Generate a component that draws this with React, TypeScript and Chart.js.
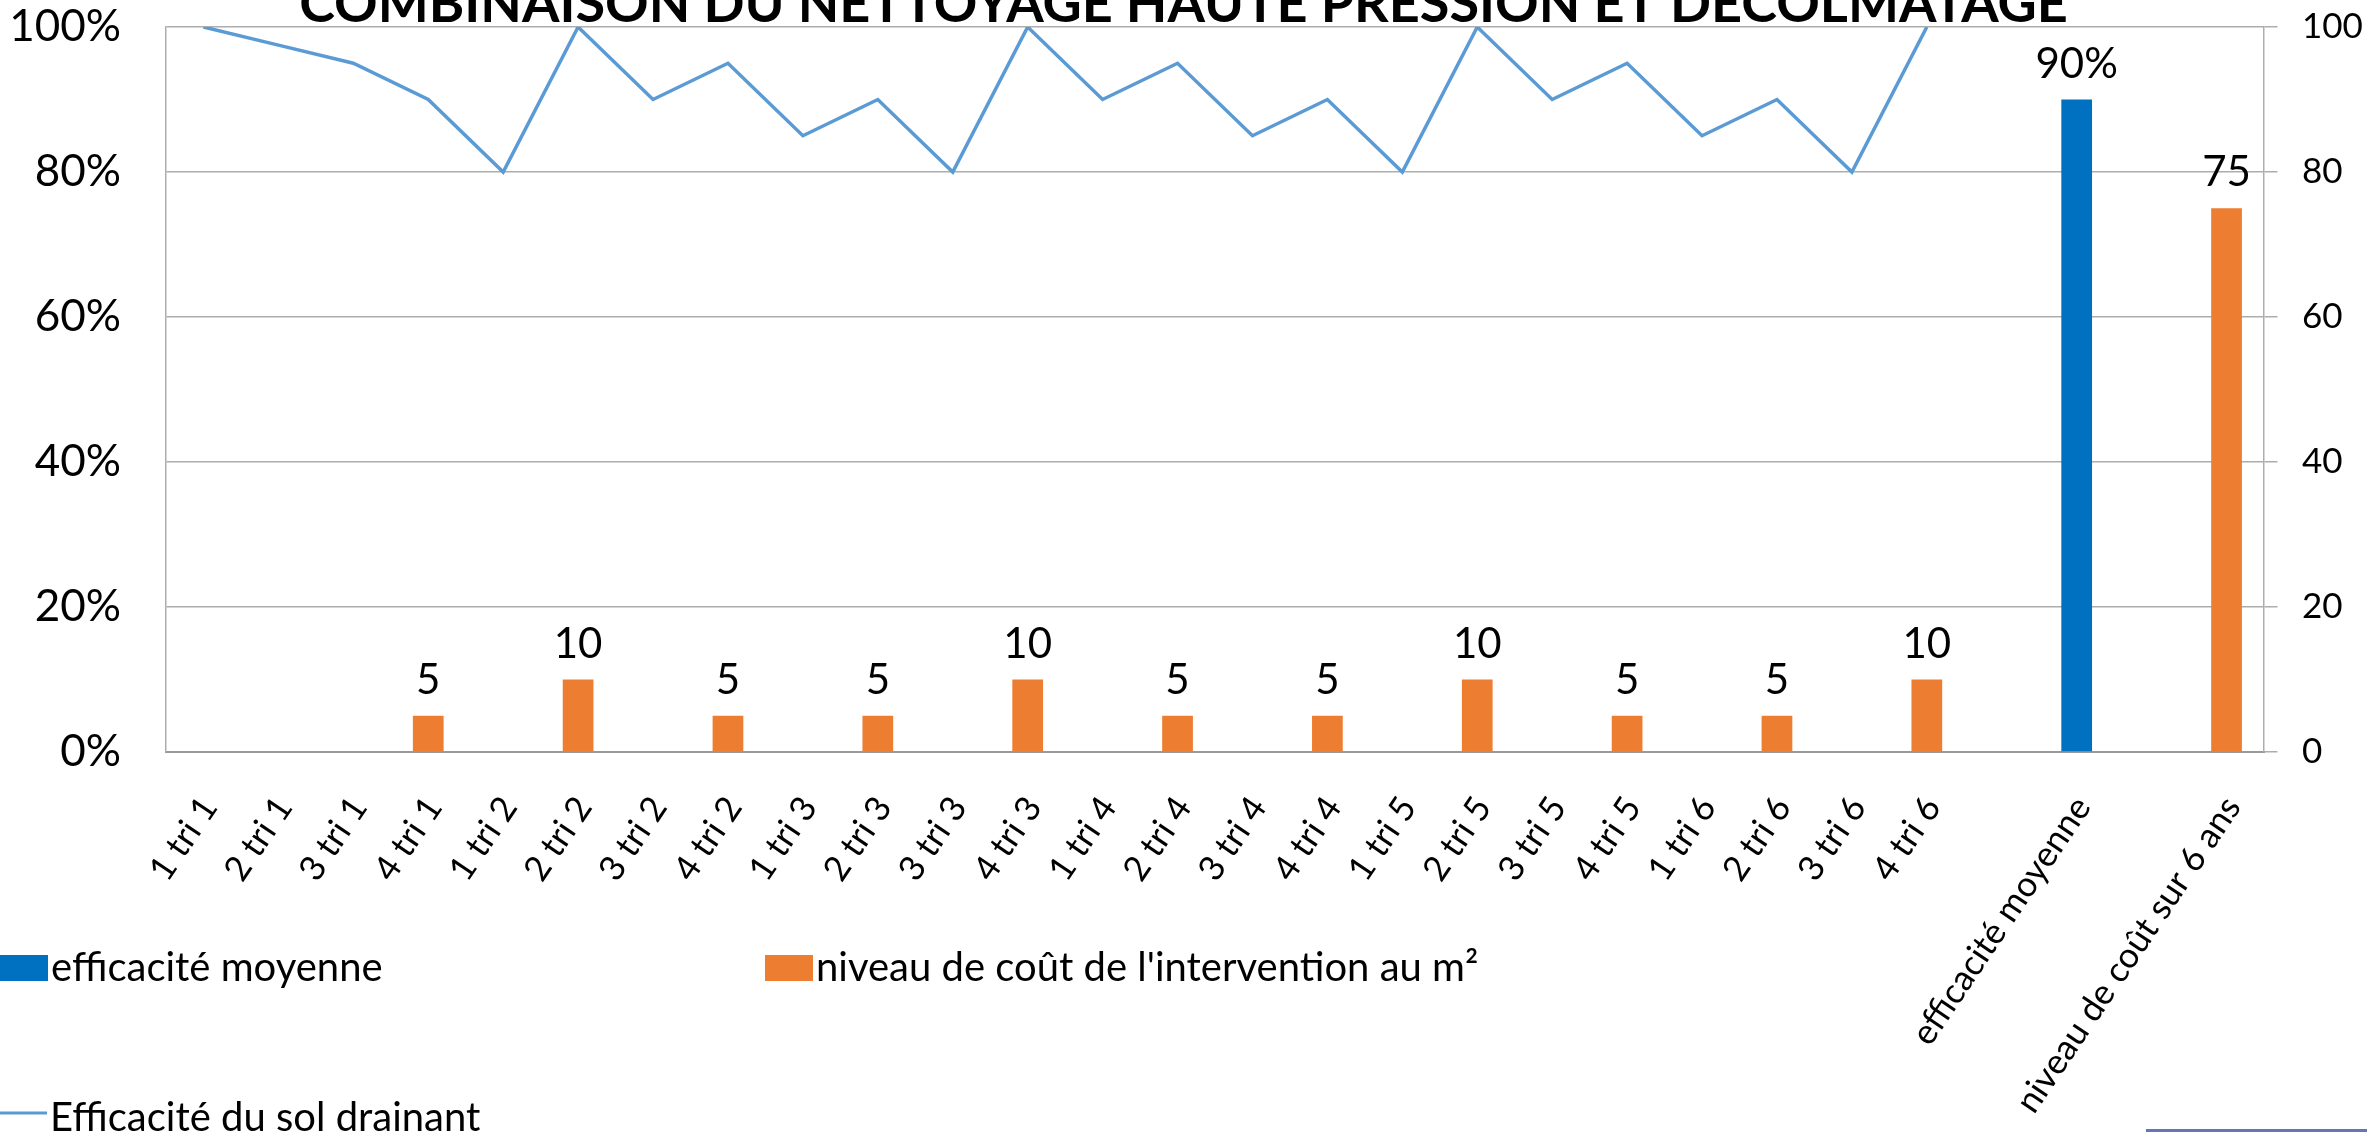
import React, { useEffect, useRef } from 'react';
import { Chart, registerables } from 'chart.js';

Chart.register(...registerables);

const TITLE = 'COMBINAISON DU NETTOYAGE HAUTE PRESSION ET DECOLMATAGE';

const categories = [
  '1 tri 1', '2 tri 1', '3 tri 1', '4 tri 1',
  '1 tri 2', '2 tri 2', '3 tri 2', '4 tri 2',
  '1 tri 3', '2 tri 3', '3 tri 3', '4 tri 3',
  '1 tri 4', '2 tri 4', '3 tri 4', '4 tri 4',
  '1 tri 5', '2 tri 5', '3 tri 5', '4 tri 5',
  '1 tri 6', '2 tri 6', '3 tri 6', '4 tri 6',
  '', 'efficacité moyenne', '', 'niveau de coût sur 6 ans',
];

const efficaciteMoyenne = [
  null, null, null, null, null, null, null, null, null, null, null, null,
  null, null, null, null, null, null, null, null, null, null, null, null,
  null, 90, null, null,
];

const coutIntervention = [
  null, null, null, 5, null, 10, null, 5, null, 5, null, 10,
  null, 5, null, 5, null, 10, null, 5, null, 5, null, 10,
  null, null, null, 75,
];

const efficaciteSol = [
  100, 97.5, 95, 90, 80, 100, 90, 95, 85, 90, 80, 100,
  90, 95, 85, 90, 80, 100, 90, 95, 85, 90, 80, 100,
  null, null, null, null,
];

const seriesLabels = [
  'efficacité moyenne',
  "niveau de coût de l'intervention au m²",
  'Efficacité du sol drainant',
];

const FONT = 'Lato, "Open Sans", "DejaVu Sans", sans-serif';
const GRID = '#ADADAD';

const titlePlugin = {
  id: 'cutTitle',
  afterDraw(chart: any) {
    const ctx = chart.ctx;
    ctx.save();
    ctx.font = `bold 54px ${FONT}`;
    ctx.fillStyle = '#000';
    ctx.textAlign = 'center';
    ctx.textBaseline = 'alphabetic';
    ctx.fillText(TITLE, chart.width / 2, 22);
    ctx.restore();
  },
};

const valueLabels = {
  id: 'valueLabels',
  afterDatasetsDraw(chart: any) {
    const ctx = chart.ctx;
    ctx.save();
    ctx.font = `42px ${FONT}`;
    ctx.fillStyle = '#000';
    ctx.textAlign = 'center';
    ctx.textBaseline = 'alphabetic';
    chart.data.datasets.forEach((ds: any, i: number) => {
      if (ds.type !== 'bar') return;
      const meta = chart.getDatasetMeta(i);
      meta.data.forEach((el: any, j: number) => {
        const v = ds.data[j];
        if (v === null || v === undefined) return;
        const txt = ds.yAxisID === 'y' ? `${v}%` : String(v);
        ctx.fillText(txt, el.x, el.y - 22);
      });
    });
    ctx.restore();
  },
};

const legendPlugin = {
  id: 'gridLegend',
  afterDraw(chart: any) {
    const ctx = chart.ctx;
    const ds = chart.data.datasets;
    ctx.save();
    ctx.font = `40px ${FONT}`;
    ctx.fillStyle = '#000';
    ctx.textBaseline = 'middle';
    ctx.textAlign = 'left';
    const items = [
      { d: ds[0], x: 0, y: 968 },
      { d: ds[1], x: 765, y: 968 },
    ];
    items.forEach((it) => {
      ctx.fillStyle = it.d.backgroundColor;
      ctx.fillRect(it.x, it.y - 13, 48, 26);
      ctx.fillStyle = '#000';
      ctx.fillText(it.d.label, it.x + 51, it.y);
    });
    const l = ds[2];
    ctx.strokeStyle = l.borderColor;
    ctx.lineWidth = 3;
    ctx.beginPath();
    ctx.moveTo(0, 1113);
    ctx.lineTo(47, 1113);
    ctx.stroke();
    ctx.fillStyle = '#000';
    ctx.fillText(l.label, 50, 1118);
    ctx.restore();
  },
};

export default function App() {
  const ref = useRef<HTMLCanvasElement | null>(null);

  useEffect(() => {
    if (!ref.current) return;
    const chart = new Chart(ref.current, {
      type: 'bar',
      data: {
        labels: categories,
        datasets: [
          {
            type: 'bar',
            label: seriesLabels[0],
            data: efficaciteMoyenne,
            backgroundColor: '#0070C0',
            yAxisID: 'y',
            grouped: false,
            barPercentage: 0.41,
            categoryPercentage: 1,
          } as any,
          {
            type: 'bar',
            label: seriesLabels[1],
            data: coutIntervention,
            backgroundColor: '#ED7D31',
            yAxisID: 'y1',
            grouped: false,
            barPercentage: 0.41,
            categoryPercentage: 1,
          } as any,
          {
            type: 'line',
            label: seriesLabels[2],
            data: efficaciteSol,
            borderColor: '#5B9BD5',
            backgroundColor: '#5B9BD5',
            borderWidth: 3.5,
            pointRadius: 0,
            tension: 0,
            yAxisID: 'y',
          } as any,
        ],
      },
      options: {
        responsive: false,
        devicePixelRatio: 1,
        animation: false,
        layout: { padding: { top: 27, left: 0, right: 0, bottom: 0 } },
        plugins: {
          legend: { display: false },
          tooltip: { enabled: false },
          title: { display: false },
        },
        scales: {
          x: {
            ticks: {
              autoSkip: false,
              minRotation: 56,
              maxRotation: 56,
              font: { family: FONT, size: 35 },
              color: '#000',
              padding: 37,
              labelOffset: 6,
            },
            grid: { display: false, drawTicks: false },
            border: { display: true, color: '#999999', width: 2 },
            afterFit: (s: any) => { s.height = 380; },
          },
          y: {
            position: 'left',
            min: 0,
            max: 100,
            ticks: {
              stepSize: 20,
              callback: (v: any) => `${v}%`,
              font: { family: FONT, size: 44 },
              color: '#000',
              padding: 0,
            },
            grid: { color: GRID, lineWidth: 1.5, drawTicks: true, tickLength: 45, tickColor: 'rgba(0,0,0,0)' },
            border: { display: true, color: GRID, width: 1.5 },
            afterFit: (s: any) => { s.width = 166; },
          },
          y1: {
            position: 'right',
            min: 0,
            max: 100,
            ticks: {
              stepSize: 20,
              font: { family: FONT, size: 35 },
              color: '#000',
              padding: 0,
            },
            grid: {
              drawOnChartArea: false,
              drawTicks: true,
              tickLength: 38,
              tickBorderDash: [13, 200],
              color: GRID,
              tickColor: GRID,
              lineWidth: 1.5,
            },
            border: { display: true, color: GRID, width: 1.5 },
            afterFit: (s: any) => { s.width = 103; },
          },
        },
      } as any,
      plugins: [titlePlugin, valueLabels, legendPlugin],
    });
    return () => chart.destroy();
  }, []);

  return (
    <div style={{ position: 'fixed', left: 0, top: 0, width: 2367, height: 1132, background: '#fff', overflow: 'hidden' }}>
      <canvas ref={ref} width={2367} height={1132} style={{ display: 'block', width: 2367, height: 1132 }} />
      <div style={{ position: 'absolute', left: 2146, top: 1129, width: 221, height: 3, background: '#6674BC' }} />
    </div>
  );
}
